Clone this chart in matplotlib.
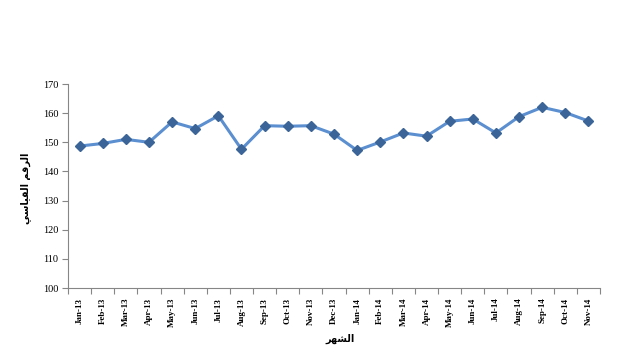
import matplotlib.pyplot as plt
import numpy as np

# monthly index values
months = ['Jan-13', 'Feb-13', 'Mar-13', 'Apr-13', 'May-13', 'Jun-13', 'Jul-13', 'Aug-13',
          'Sep-13', 'Oct-13', 'Nov-13', 'Dec-13', 'Jan-14', 'Feb-14', 'Mar-14', 'Apr-14',
          'May-14', 'Jun-14', 'Jul-14', 'Aug-14', 'Sep-14', 'Oct-14', 'Nov-14']
index_values = [148.7, 149.6, 151.0, 150.0, 157.0, 154.7, 159.1, 147.6,
                155.7, 155.5, 155.7, 152.8, 147.2, 150.1, 153.2, 152.1,
                157.2, 158.0, 153.2, 158.8, 162.0, 160.2, 157.3]
y_ticks = [100, 110, 120, 130, 140, 150, 160, 170]

# arabic labels, written in shaped presentation forms (visual order) since mpl has no shaping
x_title = '\uFEAE\uFEEC\uFEB8\uFEDF\uFE8D'  # الشهر
y_title = ('\uFEF2\uFEB3\uFE8E\uFEF4\uFED8\uFEDF\uFE8D' + ' ' +
           '\uFEE2\uFED7\uFEAE\uFEDF\uFE8D')  # الرقم القياسي

fig = plt.figure(figsize=(6.42, 3.56), dpi=100)
ax = fig.add_axes([68 / 642, 1 - 288 / 356, 532 / 642, 204 / 356])

x = np.arange(len(months))
ax.plot(x, index_values, color='#5b8fd0', lw=2.2, zorder=2)
ax.plot(x, index_values, 'D', color='#3b6598', ms=5, zorder=3)

ax.set_xlim(-0.5, len(months) - 0.5)
ax.set_ylim(100, 170)
ax.set_yticks(y_ticks)
ax.set_yticklabels([str(v) for v in y_ticks], family='Liberation Serif', fontsize=7.5)

# ticks on category boundaries, labels at the centres
ax.set_xticks(np.arange(-0.5, len(months) + 0.5, 1))
ax.set_xticklabels([])
ax.set_xticks(x, minor=True)
ax.set_xticklabels(months, minor=True, rotation=90, family='Liberation Serif',
                   fontweight='bold', fontsize=6.5)
ax.tick_params(axis='x', which='major', length=4, color='#868686', direction='out')
ax.tick_params(axis='x', which='minor', length=0, pad=7)
ax.tick_params(axis='y', length=4, color='#868686', direction='out', pad=3)

for s in ['top', 'right']:
    ax.spines[s].set_visible(False)
for s in ['left', 'bottom']:
    ax.spines[s].set_color('#868686')
    ax.spines[s].set_linewidth(0.8)

fig.text(340 / 642, 1 - 339 / 356, x_title, family='DejaVu Sans', fontweight='bold',
         fontsize=7, ha='center', va='center')
fig.text(26 / 642, 1 - 188 / 356, y_title, family='DejaVu Sans', fontweight='bold',
         fontsize=7, rotation=90, ha='center', va='center')

fig.savefig('out.png', dpi=100)
